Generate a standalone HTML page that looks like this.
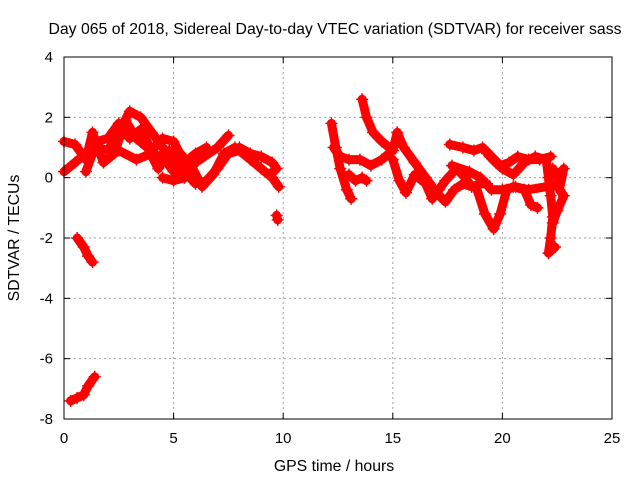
<!DOCTYPE html>
<html><head><meta charset="utf-8"><style>
body{margin:0;background:#fff}
svg{display:block;font-family:"Liberation Sans",sans-serif}
</style></head><body>
<svg id="chart" width="640" height="480">
<rect width="640" height="480" fill="#fff"/>
<text x="335" y="34" text-anchor="middle" font-size="15.8">Day 065 of 2018, Sidereal Day-to-day VTEC variation (SDTVAR) for receiver sass</text>
<text x="334" y="471" text-anchor="middle" font-size="15.8">GPS time / hours</text>
<text transform="translate(19,238) rotate(-90)" text-anchor="middle" font-size="15.8">SDTVAR / TECUs</text>
<g id="grid"></g><g id="marks"></g>
<rect x="64" y="57" width="548" height="362" fill="none" stroke="#000" stroke-width="1"/>
</svg>
<script>
const xTicks=[0,5,10,15,20,25];
const yTicks=[-8,-6,-4,-2,0,2,4];
const tracks=[
[[0,0.2],[0.5,0.5],[1,0.8],[1.5,1.0],[2,0.9],[2.5,1.5],[3,2.2],[3.5,2.0],[4,1.5],[4.5,1.0],[5,0.6],[5.5,0.2],[6,-0.2],[6.5,-0.1],[7,0.3],[7.5,0.8],[8,0.9],[8.5,0.6],[9,0.3],[9.5,0.0],[9.8,-0.3]],
[[0,1.2],[0.5,1.1],[1,0.6],[1.3,1.5],[1.8,0.5],[2.3,0.8],[2.8,1.9],[3.3,1.3],[3.8,1.0],[4.3,0.3],[4.8,0.9],[5.3,0.8],[5.8,0.4],[6.3,-0.3],[6.8,0.1],[7.3,0.8],[7.8,1.0],[8.3,0.8]],
[[1,0.2],[1.5,1.2],[2,1.3],[2.5,1.8],[3,1.3],[3.5,1.6],[4,0.9],[4.5,1.3],[5,1.2],[5.5,0.5],[6,0.8],[6.5,1.0]],
[[4.5,0.0],[5,-0.1],[5.5,0.0],[6.0,0.5],[7,1.0],[7.5,1.4]],
[[2.5,0.9],[3.3,0.6],[4,0.8],[4.5,0.7],[5,0.2],[5.5,0.0]],
[[8,1.0],[8.5,0.8],[9,0.7],[9.5,0.5],[9.7,0.3],[9.4,0.1]],
[[9.7,-1.25],[9.75,-1.4]],
[[0.6,-2.0],[0.9,-2.3],[1.1,-2.6],[1.3,-2.8]],
[[0.3,-7.4],[0.6,-7.3],[0.9,-7.2],[1.1,-6.9],[1.4,-6.6]],
[[12.2,1.8],[12.4,1.0],[12.6,0.3],[12.9,-0.4],[13.1,-0.7]],
[[12.3,1.0],[12.6,0.7],[13,0.6],[13.5,0.6],[14,0.4],[14.5,0.6],[15,0.9]],
[[13.6,2.6],[13.8,2.0],[14.1,1.5],[14.5,1.2],[15,0.9],[15.2,1.5],[15.5,1.0],[16,0.5],[16.5,0.0],[17,-0.5],[17.4,-0.8],[17.8,-0.4],[18.2,-0.2],[18.6,-0.3],[19,-0.2],[19.3,-0.2]],
[[13,0.1],[13.3,-0.1],[13.6,0.0],[13.8,-0.1]],
[[15,0.6],[15.3,-0.1],[15.6,-0.5],[16,0.1],[16.5,-0.2],[16.8,-0.7],[17.1,-0.4],[17.4,-0.1],[17.9,0.3],[18.3,0.0],[18.6,-0.3]],
[[18.8,-0.3],[19.2,-1.2],[19.6,-1.7],[19.9,-1.2],[20.2,-0.4],[20.5,-0.3],[21,-0.4],[21.3,-0.9],[21.6,-1.0]],
[[17.7,0.4],[18.5,0.2],[19,0.0],[19.5,-0.4],[20,-0.4],[20.6,-0.3],[21.2,-0.4],[22,-0.3],[22.5,-0.2]],
[[17.6,1.1],[18.2,1.0],[18.7,0.9],[19.1,1.0],[19.5,0.7],[19.9,0.4],[20.3,0.5],[20.7,0.7],[21.2,0.6],[21.7,0.6],[22.2,0.7]],
[[19.3,0.8],[19.7,0.5],[20,0.3],[20.5,0.1],[21,0.5],[21.5,0.7],[22,0.6]],
[[22.0,0.6],[22.1,0.0],[22.2,-0.6],[22.3,-1.3],[22.2,-2.0],[22.1,-2.5],[22.4,-2.3]],
[[22.3,0.3],[22.5,0.0],[22.8,0.3],[22.6,-0.4],[22.8,-0.6],[22.5,-1.1],[22.3,-1.5]]
];
const NS="http://www.w3.org/2000/svg";
const X=h=>64+h*548/25, Y=v=>57+(4-v)*362/12;
const grid=document.getElementById('grid'), marks=document.getElementById('marks');
function mk(tag,attrs,parent){const e=document.createElementNS(NS,tag);for(const k in attrs)e.setAttribute(k,attrs[k]);parent.appendChild(e);return e;}
xTicks.forEach(t=>{
  const x=X(t);
  if(t>0&&t<25){const g=mk('line',{x1:x,x2:x,y1:57,y2:419,stroke:'#a0a0a0','stroke-dasharray':'2,3'},grid);
  
  }
  mk('line',{x1:x,x2:x,y1:419,y2:413,stroke:'#000'},grid);
  mk('line',{x1:x,x2:x,y1:57,y2:63,stroke:'#000'},grid);
  const l=mk('text',{x:x,y:443,'text-anchor':'middle','font-size':15},grid);l.textContent=t;
  
  
});
yTicks.forEach(t=>{
  const y=Y(t);
  if(t>-8&&t<4){const g=mk('line',{x1:64,x2:612,y1:y,y2:y,stroke:'#a0a0a0','stroke-dasharray':'2,3'},grid);
  
  }
  mk('line',{x1:64,x2:70,y1:y,y2:y,stroke:'#000'},grid);
  mk('line',{x1:606,x2:612,y1:y,y2:y,stroke:'#000'},grid);
  const l=mk('text',{x:53,y:y+5,'text-anchor':'end','font-size':15},grid);l.textContent=t;
  
  
});
tracks.forEach(tr=>{
  const p=mk('polyline',{points:tr.map(d=>X(d[0])+','+Y(d[1])).join(' '),fill:'none',stroke:'#f00','stroke-width':9,'stroke-linejoin':'round','stroke-linecap':'round'},marks);
  
  
  tr.forEach(d=>{
    const x=X(d[0]),y=Y(d[1]);
    const m=mk('path',{d:`M${x-6},${y}H${x+6}M${x},${y-6}V${y+6}`,stroke:'#f00','stroke-width':1.5},marks);
    
    
  });
});
</script>
</body></html>
